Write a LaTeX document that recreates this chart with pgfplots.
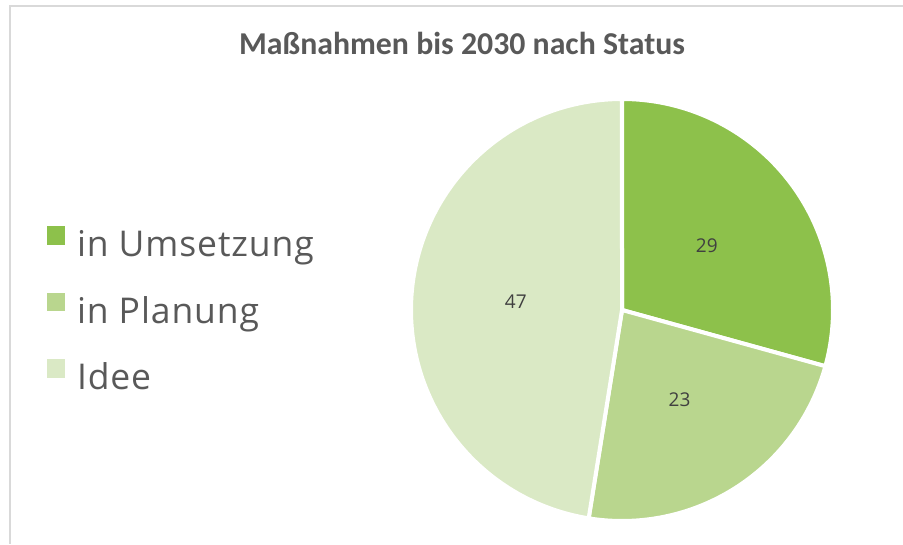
\documentclass[border=0pt]{standalone}
\usepackage{pgfplots}
\pgfplotsset{compat=1.18}
\usepackage{fontspec}
\setmainfont{Carlito}
\newfontfamily\legfont[LetterSpace=2.5]{Open Sans}
\newfontfamily\labfont{Open Sans}
\definecolor{cA}{HTML}{8DC14B}
\definecolor{cB}{HTML}{B9D68E}
\definecolor{cC}{HTML}{DAE9C5}
\definecolor{txt}{HTML}{595959}
\definecolor{lab}{HTML}{404040}
\definecolor{frame}{HTML}{D9D9D9}
% data
\def\vA{29}\def\vB{23}\def\vC{47}
\pgfmathsetmacro\tot{\vA+\vB+\vC}
\pgfmathsetmacro\aA{90}
\pgfmathsetmacro\aB{90-\vA/\tot*360}
\pgfmathsetmacro\aC{\aB-\vB/\tot*360}
\pgfmathsetmacro\aD{\aC-\vC/\tot*360}
\pgfmathsetmacro\mA{(\aA+\aB)/2}
\pgfmathsetmacro\mB{(\aB+\aC)/2}
\pgfmathsetmacro\mC{(\aC+\aD)/2}
\def\cx{622}\def\cy{234}\def\R{211}\def\lr{106.5}
\begin{document}
\begin{tikzpicture}
\begin{axis}[x=1pt,y=1pt,xmin=0,xmax=903,ymin=0,ymax=544,
  scale only axis,hide axis,clip=false,at={(0,0)},anchor=south west,
  legend style={at={(axis cs:46.5,317.5)},anchor=north west,draw=none,fill=none,
    inner sep=0pt,outer sep=0pt,row sep=27pt,column sep=12pt,
    font=\legfont\fontsize{35.5}{38}\selectfont\color{txt},
    nodes={inner sep=0pt,text height=26pt,text depth=9pt}},
  legend cell align=left,
  legend image code/.code={\fill[#1,draw=none] (0pt,3.5pt) rectangle (18.5pt,22pt);}]
\addplot[fill=cA,draw=white,line width=4pt,domain=\aB:\aA,samples=150,variable=\t]
  ({\cx+\R*cos(\t)},{\cy+\R*sin(\t)}) -- (axis cs:\cx,\cy) -- cycle;
\addlegendentry{in Umsetzung}
\addplot[fill=cB,draw=white,line width=4pt,domain=\aC:\aB,samples=150,variable=\t]
  ({\cx+\R*cos(\t)},{\cy+\R*sin(\t)}) -- (axis cs:\cx,\cy) -- cycle;
\addlegendentry{in Planung}
\addplot[fill=cC,draw=white,line width=4pt,domain=\aD:\aC,samples=150,variable=\t]
  ({\cx+\R*cos(\t)},{\cy+\R*sin(\t)}) -- (axis cs:\cx,\cy) -- cycle;
\addlegendentry{Idee}
\pgfmathsetmacro\xA{\cx+\lr*cos(\mA)}\pgfmathsetmacro\yA{\cy+\lr*sin(\mA)}
\pgfmathsetmacro\xB{\cx+\lr*cos(\mB)}\pgfmathsetmacro\yB{\cy+\lr*sin(\mB)}
\pgfmathsetmacro\xC{\cx+\lr*cos(\mC)}\pgfmathsetmacro\yC{\cy+\lr*sin(\mC)}
\node[font=\labfont\fontsize{19}{22}\selectfont,text=lab] at (axis cs:\xA,\yA) {\vA};
\node[font=\labfont\fontsize{19}{22}\selectfont,text=lab] at (axis cs:\xB,\yB) {\vB};
\node[font=\labfont\fontsize{19}{22}\selectfont,text=lab] at (axis cs:\xC,\yC) {\vC};
\node[font=\fontsize{31.8}{36}\selectfont\bfseries,text=txt,anchor=base] at (axis cs:462,489.7) {Maßnahmen bis 2030 nach Status};
\draw[frame,line width=2pt] (axis cs:10,0) -- (axis cs:10,538) -- (axis cs:903,538);
\end{axis}
\pgfresetboundingbox
\path (0,0) rectangle (903pt,544pt);
\end{tikzpicture}
\end{document}
